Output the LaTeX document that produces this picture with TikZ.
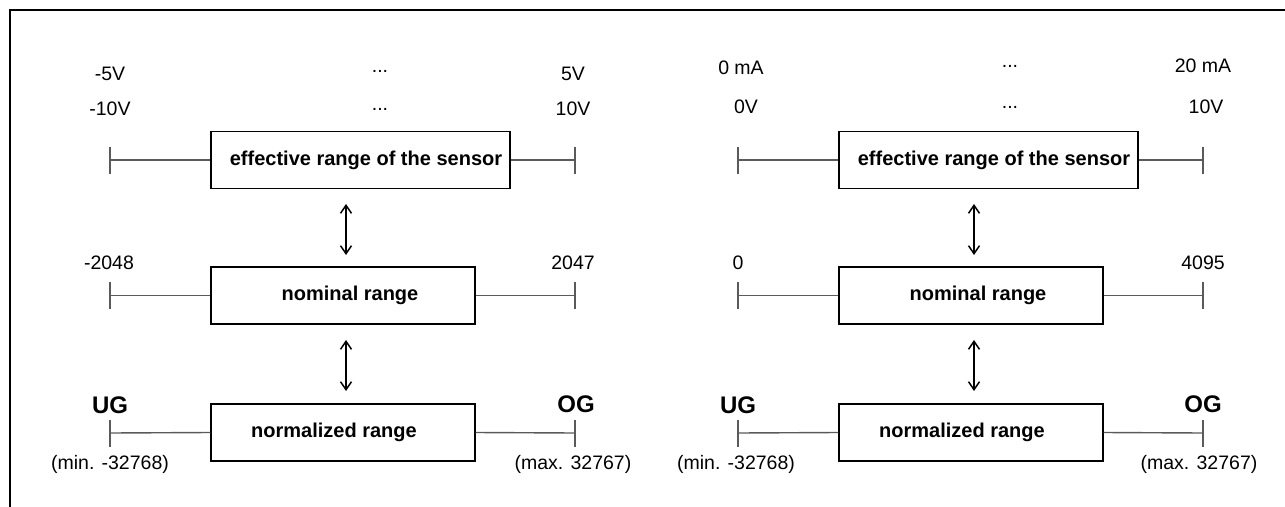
\documentclass[tikz,border=0pt]{standalone}
\usepackage{fontspec}
\setmainfont{Liberation Sans}
\usetikzlibrary{arrows.meta}
\definecolor{linegray}{HTML}{5A5A5A}
\tikzset{
  rbox/.style={draw=black, line width=1.3pt, minimum height=57pt, inner sep=0pt},
  btxt/.style={font=\fontsize{20}{24}\selectfont\bfseries, inner sep=0pt},
  ntxt/.style={font=\fontsize{19.5}{23}\selectfont, inner sep=0pt},
  gtxt/.style={font=\fontsize{24}{28}\selectfont\bfseries, inner sep=0pt},
  conn/.style={draw=linegray, line width=1.4pt},
  tickmark/.style={draw=linegray, line width=1.4pt},
  dblarrow/.style={draw=black, line width=1.5pt, {Straight Barb[length=8pt,width=11pt]}-{Straight Barb[length=8pt,width=11pt]}},
  frameline/.style={draw=black, line width=2.6pt}
}
\begin{document}
\begin{tikzpicture}[x=1pt,y=-1pt]
\useasboundingbox (0,0) rectangle (1285,506);
% frame
\coordinate (frTR) at (1290,10);
\coordinate (frTL) at (10,10);
\coordinate (frBL) at (10,512);
\draw[frameline] (frTR) -- (frTL) -- (frBL);

% ================= LEFT DIAGRAM =================
% boxes
\node[rbox, minimum width=299pt] (effL) at (360.5,160) {};
\node[btxt] (effLt) at (366,160) {effective range of the sensor};
\node[rbox, minimum width=264pt] (nomL) at (343,295.5) {};
\node[btxt] (nomLt) at (350,295.5) {nominal range};
\node[rbox, minimum width=264pt] (normL) at (343,432.5) {};
\node[btxt] (normLt) at (334,432.5) {normalized range};
% ticks
\coordinate (eLa) at (110,160);
\coordinate (eLb) at (575,160);
\coordinate (nLa) at (110,295.5);
\coordinate (nLb) at (575,295.5);
\coordinate (mLa) at (110,433);
\coordinate (mLb) at (575,433);
\foreach \t in {eLa,eLb,nLa,nLb,mLa,mLb}
  \draw[tickmark] ([yshift=13.5pt]\t) -- ([yshift=-13.5pt]\t);
\draw[conn] (eLa) -- (effL.west);
\draw[conn] (effL.east) -- (eLb);
\draw[conn] (nLa) -- (nomL.west);
\draw[conn] (nomL.east) -- (nLb);
\draw[conn] (mLa) -- (normL.west);
\draw[conn] (normL.east) -- (mLb);
% labels
\node[ntxt] (l1) at (110,74) {-5V};
\node[ntxt] (l2) at (110,108.5) {-10V};
\node[ntxt, anchor=base] (l3) at (380,72) {...};
\node[ntxt, anchor=base] (l4) at (380,110.5) {...};
\node[ntxt] (l5) at (573,74) {5V};
\node[ntxt] (l6) at (573,108.5) {10V};
\node[ntxt] (l7) at (109,263) {-2048};
\node[ntxt] (l8) at (573,263) {2047};
\node[gtxt] (l9) at (110,405) {UG};
\node[gtxt] (l10) at (576,404) {OG};
\node[ntxt] (l11) at (110,464) {(min. -32768)};
\node[ntxt] (l12) at (573,464) {(max. 32767)};
% arrows
\coordinate (aL1t) at (346,204);
\coordinate (aL1b) at (346,255);
\coordinate (aL2t) at (346,340);
\coordinate (aL2b) at (346,391);
\draw[dblarrow] (aL1t) -- (aL1b);
\draw[dblarrow] (aL2t) -- (aL2b);

% ================= RIGHT DIAGRAM =================
\node[rbox, minimum width=299pt] (effR) at (988.5,160) {};
\node[btxt] (effRt) at (994,160) {effective range of the sensor};
\node[rbox, minimum width=264pt] (nomR) at (971,295.5) {};
\node[btxt] (nomRt) at (978,295.5) {nominal range};
\node[rbox, minimum width=264pt] (normR) at (971,432.5) {};
\node[btxt] (normRt) at (962,432.5) {normalized range};
\coordinate (eRa) at (738,160);
\coordinate (eRb) at (1203,160);
\coordinate (nRa) at (738,295.5);
\coordinate (nRb) at (1203,295.5);
\coordinate (mRa) at (738,433);
\coordinate (mRb) at (1203,433);
\foreach \t in {eRa,eRb,nRa,nRb,mRa,mRb}
  \draw[tickmark] ([yshift=13.5pt]\t) -- ([yshift=-13.5pt]\t);
\draw[conn] (eRa) -- (effR.west);
\draw[conn] (effR.east) -- (eRb);
\draw[conn] (nRa) -- (nomR.west);
\draw[conn] (nomR.east) -- (nRb);
\draw[conn] (mRa) -- (normR.west);
\draw[conn] (normR.east) -- (mRb);
\node[ntxt] (r1) at (741,68) {0 mA};
\node[ntxt] (r2) at (746,106.5) {0V};
\node[ntxt, anchor=base] (r3) at (1010,67) {...};
\node[ntxt, anchor=base] (r4) at (1010,108.5) {...};
\node[ntxt] (r5) at (1203,66) {20 mA};
\node[ntxt] (r6) at (1206,106.5) {10V};
\node[ntxt] (r7) at (738,263) {0};
\node[ntxt] (r8) at (1203,263) {4095};
\node[gtxt] (r9) at (738,405) {UG};
\node[gtxt] (r10) at (1203,404) {OG};
\node[ntxt] (r11) at (736,464) {(min. -32768)};
\node[ntxt] (r12) at (1199,464) {(max. 32767)};
\coordinate (aR1t) at (974,204);
\coordinate (aR1b) at (974,255);
\coordinate (aR2t) at (974,340);
\coordinate (aR2b) at (974,391);
\draw[dblarrow] (aR1t) -- (aR1b);
\draw[dblarrow] (aR2t) -- (aR2b);
\end{tikzpicture}
\end{document}
